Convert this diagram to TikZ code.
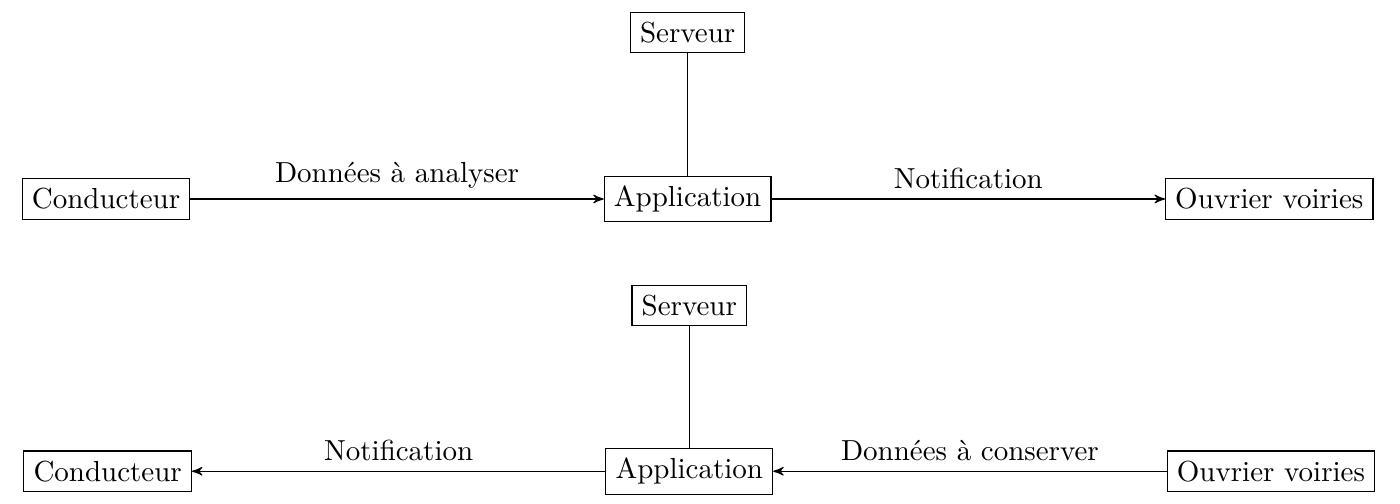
\documentclass[tikz,border=0pt]{standalone}
\usepackage{fontspec}
\usepackage{tikz}
\usetikzlibrary{arrows,positioning,calc}

\begin{document}
\begin{tikzpicture}[
        box/.style={draw, black, rectangle},
        flow/.style={->, >=stealth'},
        link/.style={black},
        every node/.style={color=black},
    ]
    \useasboundingbox (-1.285,2.412) rectangle (15.685,-3.697);
    % envoi des donnees
    \node[box] at (0,0) (cond1) {Conducteur};
    \node[box] at (7.05,0) (app1) {Application};
    \node[box] at (14.1,0) (ouv1) {Ouvrier voiries};
    \node[box] at (7.05,2.02) (serv1) {Serveur};

    \draw[flow] (cond1) -- node[above] {Données à analyser} (app1);
    \draw[flow] (app1) -- node[above] {Notification} (ouv1);
    \draw[link] (serv1) -- (app1);

    % retour vers le conducteur
    \node[box] at (0.02,-3.3) (cond2) {Conducteur};
    \node[box] at (7.07,-3.3) (app2) {Application};
    \node[box] at (14.12,-3.3) (ouv2) {Ouvrier voiries};
    \node[box] at (7.07,-1.29) (serv2) {Serveur};

    \draw[flow] (app2) -- node[above] {Notification} (cond2);
    \draw[flow] (ouv2) -- node[above] {Données à conserver} (app2);
    \draw[link] (serv2) -- (app2);
\end{tikzpicture}
\end{document}
